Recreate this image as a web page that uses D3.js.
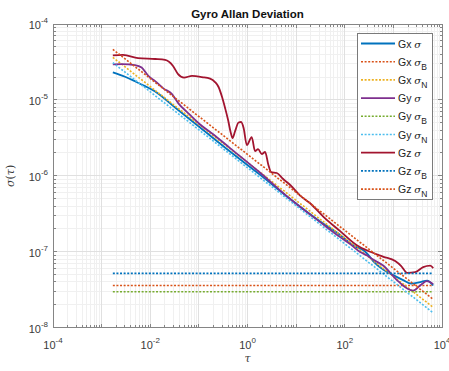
<!DOCTYPE html>
<html>
<head>
<meta charset="utf-8">
<script src="https://cdn.jsdelivr.net/npm/d3@7"></script>
<style>
  html, body { margin: 0; padding: 0; background: #ffffff; }
  svg { display: block; font-family: "Liberation Sans", Arial, Helvetica, sans-serif; }
</style>
</head>
<body>
<svg id="chart" width="449" height="371"></svg>
<script>
// Averaging time range shared by every trace
const tauRange = [1.7e-3, 6600];

// Measured Allan deviation, X gyro
const gxTau = [1.7e-3, 3.03e-3, 4.86e-3, 7.82e-3, 1.26e-2, 3.24e-2, 0.106, 0.438, 1.82, 7.54, 31.2, 80.4, 129, 180, 228, 289, 384, 617, 991, 1590, 2320, 3560, 4950, 6600];
const gxSigma = [2.31e-5, 2.02e-5, 1.76e-5, 1.52e-5, 1.29e-5, 7.94e-6, 4.33e-6, 2.09e-6, 1.03e-6, 4.95e-7, 2.50e-7, 1.66e-7, 1.30e-7, 1.14e-7, 1.07e-7, 9.47e-8, 7.54e-8, 5.82e-8, 4.93e-8, 4.24e-8, 3.81e-8, 3.99e-8, 4.18e-8, 3.59e-8];

// Measured Allan deviation, Y gyro
const gyTau = [1.7e-3, 2.63e-3, 4.86e-3, 6.65e-3, 9.14e-3, 1.26e-2, 1.86e-2, 2.77e-2, 3.79e-2, 6.08e-2, 0.106, 0.187, 0.438, 1.82, 7.54, 31.2, 80.4, 129, 207, 289, 384, 617, 1180, 1900, 2550, 3560, 4890, 6600];
const gySigma = [2.93e-5, 2.97e-5, 2.88e-5, 2.67e-5, 2.07e-5, 1.77e-5, 1.42e-5, 1.20e-5, 9.02e-6, 6.66e-6, 4.74e-6, 3.61e-6, 2.32e-6, 1.10e-6, 4.95e-7, 2.46e-7, 1.56e-7, 1.26e-7, 9.91e-8, 8.91e-8, 7.89e-8, 6.58e-8, 4.24e-8, 3.30e-8, 3.08e-8, 3.59e-8, 4.11e-8, 3.75e-8];

// Measured Allan deviation, Z gyro
const gzTau = [1.7e-3, 2.75e-3, 5.61e-3, 1.26e-2, 2.02e-2, 2.94e-2, 3.73e-2, 4.95e-2, 7.24e-2, 0.116, 0.170, 0.215, 0.254, 0.300, 0.346, 0.399, 0.449, 0.493, 0.556, 0.656, 0.738, 0.832, 0.968, 1.22, 1.43, 1.65, 1.97, 2.30, 2.69, 3.06, 4.01, 5.41, 7.54, 12.1, 19.4, 36.5, 80.4, 177, 333, 625, 1090, 1450, 1920, 2810, 4100, 5720, 6600];
const gzSigma = [3.85e-5, 3.91e-5, 3.56e-5, 3.46e-5, 3.36e-5, 2.80e-5, 2.19e-5, 1.97e-5, 2.07e-5, 2.00e-5, 1.91e-5, 1.72e-5, 1.48e-5, 1.09e-5, 7.82e-6, 5.43e-6, 3.78e-6, 3.15e-6, 3.89e-6, 5.04e-6, 5.12e-6, 4.27e-6, 2.55e-6, 3.24e-6, 2.12e-6, 2.25e-6, 1.94e-6, 2.06e-6, 1.39e-6, 1.12e-6, 1.09e-6, 9.08e-7, 7.57e-7, 5.50e-7, 4.35e-7, 2.89e-7, 1.87e-7, 1.22e-7, 1.00e-7, 8.59e-8, 7.54e-8, 6.48e-8, 5.28e-8, 5.40e-8, 6.28e-8, 6.57e-8, 6.10e-8];

// Fitted model levels per axis (Gx, Gy, Gz)
const axisNames = ["Gx", "Gy", "Gz"];
const biasInstability = [3.6e-8, 2.97e-8, 5.2e-8];     // flat sigma_B lines
const noiseAtStart = [3.64e-5, 3.1e-5, 4.64e-5];       // sigma_N at tauRange[0]
const noiseAtEnd = [1.85e-8, 1.57e-8, 2.36e-8];        // sigma_N at tauRange[1]

// Axis tick exponents
const xTickExponents = [-4, -2, 0, 2, 4];
const yTickExponents = [-8, -7, -6, -5, -4];

const colors = {
  gxS: "#0072BD", gxB: "#D95319", gxN: "#EDB120",
  gyS: "#7E2F8E", gyB: "#77AC30", gyN: "#4DBEEE",
  gzS: "#A2142F", gzB: "#0072BD", gzN: "#D95319"
};

const svg = d3.select("#chart");
const plot = { left: 53, right: 442, top: 24, bottom: 327.7 };

const x = d3.scaleLog().domain([1e-4, 1e4]).range([plot.left, plot.right]);
const y = d3.scaleLog().domain([1e-8, 1e-4]).range([plot.bottom, plot.top]);

// Grid: minor lines first, then majors
const minorX = [], minorY = [];
for (let e = -4; e < 4; e++) for (let m = 2; m <= 9; m++) minorX.push(m * Math.pow(10, e));
for (let e = -8; e < -4; e++) for (let m = 2; m <= 9; m++) minorY.push(m * Math.pow(10, e));
const majorX = d3.range(-4, 5).map(e => Math.pow(10, e));
const majorY = d3.range(-8, -3).map(e => Math.pow(10, e));

const grid = svg.append("g").attr("shape-rendering", "crispEdges");
grid.selectAll(".mx").data(minorX).join("line")
  .attr("x1", d => x(d)).attr("x2", d => x(d)).attr("y1", plot.top).attr("y2", plot.bottom)
  .attr("stroke", "#f0f0f0").attr("stroke-width", 1);
grid.selectAll(".my").data(minorY).join("line")
  .attr("y1", d => y(d)).attr("y2", d => y(d)).attr("x1", plot.left).attr("x2", plot.right)
  .attr("stroke", "#f0f0f0").attr("stroke-width", 1);
grid.selectAll(".Mx").data(majorX).join("line")
  .attr("x1", d => x(d)).attr("x2", d => x(d)).attr("y1", plot.top).attr("y2", plot.bottom)
  .attr("stroke", "#e0e0e0").attr("stroke-width", 1);
grid.selectAll(".My").data(majorY).join("line")
  .attr("y1", d => y(d)).attr("y2", d => y(d)).attr("x1", plot.left).attr("x2", plot.right)
  .attr("stroke", "#e0e0e0").attr("stroke-width", 1);

// Traces
const line = d3.line().x(d => x(d[0])).y(d => y(d[1])).curve(d3.curveMonotoneX);
const zip = (a, b) => a.map((t, i) => [t, b[i]]);

const traces = [
  { key: "gxS", pts: zip(gxTau, gxSigma), dotted: false },
  { key: "gxB", pts: zip(tauRange, [biasInstability[0], biasInstability[0]]), dotted: true },
  { key: "gxN", pts: zip(tauRange, [noiseAtStart[0], noiseAtEnd[0]]), dotted: true },
  { key: "gyS", pts: zip(gyTau, gySigma), dotted: false },
  { key: "gyB", pts: zip(tauRange, [biasInstability[1], biasInstability[1]]), dotted: true },
  { key: "gyN", pts: zip(tauRange, [noiseAtStart[1], noiseAtEnd[1]]), dotted: true },
  { key: "gzS", pts: zip(gzTau, gzSigma), dotted: false },
  { key: "gzB", pts: zip(tauRange, [biasInstability[2], biasInstability[2]]), dotted: true },
  { key: "gzN", pts: zip(tauRange, [noiseAtStart[2], noiseAtEnd[2]]), dotted: true }
];

const traceG = svg.append("g");
traces.forEach(t => {
  traceG.append("path")
    .attr("d", line(t.pts))
    .attr("fill", "none")
    .attr("stroke", colors[t.key])
    .attr("stroke-width", t.dotted ? 1.6 : 1.8)
    .attr("stroke-dasharray", t.dotted ? "2,1.6" : null)
    .attr("stroke-linejoin", "round");
});

// Axes box with ticks on all four sides
const axisColor = "#858585";
const box = svg.append("g").attr("shape-rendering", "crispEdges");
box.append("rect")
  .attr("x", plot.left).attr("y", plot.top)
  .attr("width", plot.right - plot.left).attr("height", plot.bottom - plot.top)
  .attr("fill", "none").attr("stroke", axisColor).attr("stroke-width", 1);

const ticks = svg.append("g").attr("stroke", axisColor).attr("stroke-width", 1).attr("shape-rendering", "crispEdges");
function xTicks(vals, len) {
  vals.forEach(v => {
    ticks.append("line").attr("x1", x(v)).attr("x2", x(v)).attr("y1", plot.bottom).attr("y2", plot.bottom - len);
    ticks.append("line").attr("x1", x(v)).attr("x2", x(v)).attr("y1", plot.top).attr("y2", plot.top + len);
  });
}
function yTicks(vals, len) {
  vals.forEach(v => {
    ticks.append("line").attr("y1", y(v)).attr("y2", y(v)).attr("x1", plot.left).attr("x2", plot.left + len);
    ticks.append("line").attr("y1", y(v)).attr("y2", y(v)).attr("x1", plot.right).attr("x2", plot.right - len);
  });
}
xTicks(minorX, 2.5); xTicks(majorX, 4);
yTicks(minorY, 2.5); yTicks(majorY, 4);

// Tick labels as 10 with superscript exponent
const labelColor = "#3a3a3a";
const xl = svg.append("g").attr("fill", labelColor).attr("font-size", 11);
xTickExponents.forEach(e => {
  const t = xl.append("text").attr("x", x(Math.pow(10, e))).attr("y", 349).attr("text-anchor", "middle");
  t.append("tspan").text("10");
  t.append("tspan").attr("dy", -6).attr("font-size", 8).text(String(e));
});
const yl = svg.append("g").attr("fill", labelColor).attr("font-size", 11);
yTickExponents.forEach(e => {
  const t = yl.append("text").attr("x", 48).attr("y", y(Math.pow(10, e)) + 5).attr("text-anchor", "end");
  t.append("tspan").text("10");
  t.append("tspan").attr("dy", -6).attr("font-size", 8).text(String(e));
});

// Title and axis labels
svg.append("text").attr("x", (plot.left + plot.right) / 2).attr("y", 18)
  .attr("text-anchor", "middle").attr("font-weight", "bold").attr("font-size", 11.5)
  .attr("fill", "#111").text("Gyro Allan Deviation");

svg.append("text").attr("x", (plot.left + plot.right) / 2).attr("y", 362)
  .attr("text-anchor", "middle").attr("font-size", 11).attr("font-style", "italic")
  .attr("font-family", "'DejaVu Serif', serif").attr("fill", labelColor).text("τ");

svg.append("text")
  .attr("transform", `translate(14, ${(plot.top + plot.bottom) / 2}) rotate(-90)`)
  .attr("text-anchor", "middle").attr("font-size", 11)
  .attr("font-family", "'DejaVu Serif', serif").attr("fill", labelColor)
  .call(t => {
    t.append("tspan").attr("font-style", "italic").text("σ");
    t.append("tspan").text("(");
    t.append("tspan").attr("font-style", "italic").text("τ");
    t.append("tspan").text(")");
  });

// Legend
const legendItems = [
  { key: "gxS", name: axisNames[0], sub: null, dotted: false },
  { key: "gxB", name: axisNames[0], sub: "B", dotted: true },
  { key: "gxN", name: axisNames[0], sub: "N", dotted: true },
  { key: "gyS", name: axisNames[1], sub: null, dotted: false },
  { key: "gyB", name: axisNames[1], sub: "B", dotted: true },
  { key: "gyN", name: axisNames[1], sub: "N", dotted: true },
  { key: "gzS", name: axisNames[2], sub: null, dotted: false },
  { key: "gzB", name: axisNames[2], sub: "B", dotted: true },
  { key: "gzN", name: axisNames[2], sub: "N", dotted: true }
];
const leg = svg.append("g");
leg.append("rect").attr("x", 357.5).attr("y", 33.5).attr("width", 75).attr("height", 166)
  .attr("fill", "#ffffff").attr("stroke", "#7a7a7a").attr("stroke-width", 1)
  .attr("shape-rendering", "crispEdges");
legendItems.forEach((it, i) => {
  const cy = 43.5 + i * 18.2;
  leg.append("line").attr("x1", 361).attr("x2", 395).attr("y1", cy).attr("y2", cy)
    .attr("stroke", colors[it.key]).attr("stroke-width", it.dotted ? 1.6 : 1.8)
    .attr("stroke-dasharray", it.dotted ? "2,1.6" : null);
  const t = leg.append("text").attr("x", 398).attr("y", cy + 4).attr("font-size", 10.5).attr("fill", "#222");
  t.append("tspan").text(it.name + " ");
  t.append("tspan").attr("font-style", "italic").attr("font-family", "'DejaVu Serif', serif").attr("font-size", 10).text("σ");
  if (it.sub) t.append("tspan").attr("dy", 4).attr("font-size", 8.5).text(it.sub);
});
</script>
</body>
</html>
